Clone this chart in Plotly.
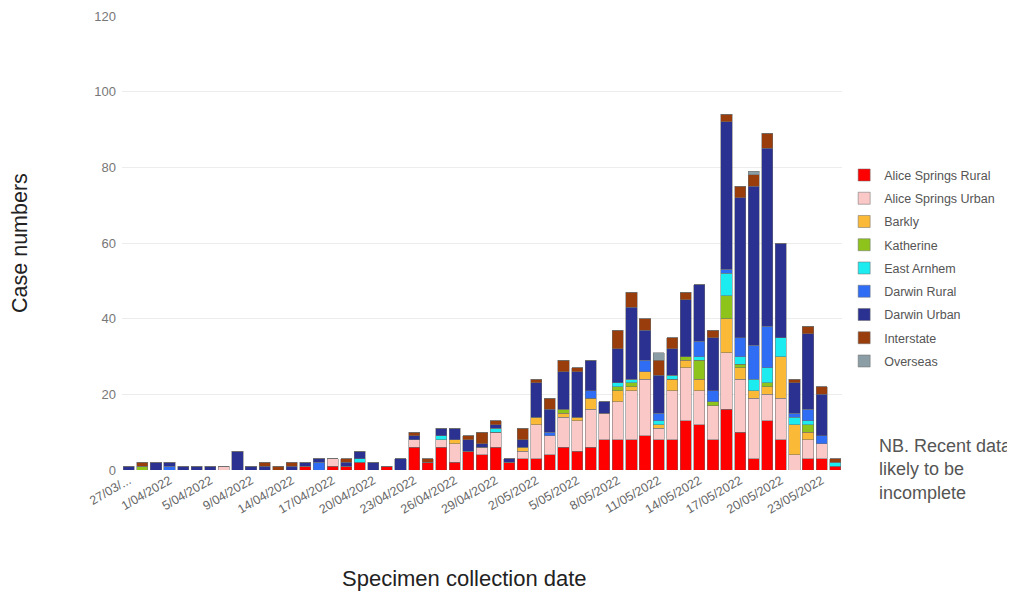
import plotly.graph_objects as go

dates = [
    "27/03/2022", "29/03/2022", "31/03/2022", "1/04/2022", "2/04/2022", "4/04/2022",
    "5/04/2022", "7/04/2022", "8/04/2022", "9/04/2022", "11/04/2022", "12/04/2022",
    "14/04/2022", "15/04/2022", "16/04/2022", "17/04/2022", "18/04/2022", "19/04/2022",
    "20/04/2022", "21/04/2022", "22/04/2022", "23/04/2022", "24/04/2022", "25/04/2022",
    "26/04/2022", "27/04/2022", "28/04/2022", "29/04/2022", "30/04/2022", "1/05/2022",
    "2/05/2022", "3/05/2022", "4/05/2022", "5/05/2022", "6/05/2022", "7/05/2022",
    "8/05/2022", "9/05/2022", "10/05/2022", "11/05/2022", "12/05/2022", "13/05/2022",
    "14/05/2022", "15/05/2022", "16/05/2022", "17/05/2022", "18/05/2022", "19/05/2022",
    "20/05/2022", "21/05/2022", "22/05/2022", "23/05/2022", "24/05/2022",
]

alice_springs_rural = [0,0,0,0,0,0,0,0,0,0,0,0,0,1,0,1,1,2,0,1,0,6,2,6,2,5,4,6,2,3,
                       3,4,6,5,6,8,8,8,9,8,8,13,12,8,16,10,3,13,8,0,3,3,1]
alice_springs_urban = [0,0,0,0,0,0,0,1,0,0,0,0,0,0,0,2,0,0,0,0,0,2,0,2,5,0,2,4,0,2,
                       9,5,8,8,10,7,10,13,15,3,13,14,9,9,15,14,16,7,11,4,5,4,0]
barkly = [0,0,0,0,0,0,0,0,0,0,0,0,0,0,0,0,0,0,0,0,0,0,0,0,1,0,0,0,0,1,
          2,0,1,1,3,0,3,1,2,1,3,2,3,0,9,3,2,2,11,8,2,0,0]
katherine = [0,1,0,0,0,0,0,0,0,0,0,0,0,0,0,0,0,0,0,0,0,0,0,0,0,0,0,0,0,0,
             0,0,1,0,0,0,1,1,0,0,0,1,5,1,6,1,0,1,0,0,2,0,0]
east_arnhem = [0,0,0,0,0,0,0,0,0,0,0,0,0,0,0,0,0,1,0,0,0,0,0,1,0,0,0,1,0,0,
               0,0,0,0,0,0,1,1,0,1,1,0,1,0,6,2,3,4,5,2,1,0,1]
darwin_rural = [0,0,0,1,0,0,0,0,0,0,0,0,0,0,2,0,0,0,0,0,0,0,0,0,0,0,0,0,0,0,
                0,1,0,0,2,0,0,0,3,2,0,0,4,3,1,5,9,11,0,1,3,2,0]
darwin_urban = [1,0,2,1,1,1,1,0,5,1,1,0,1,1,1,0,1,2,2,0,3,1,0,2,3,3,1,1,1,2,
                9,6,10,12,8,3,9,19,8,10,7,15,15,14,39,37,42,47,25,8,20,11,0]
interstate = [0,1,0,0,0,0,0,0,0,0,1,1,1,0,0,0,1,0,0,0,0,1,1,0,0,1,3,1,0,3,
              1,3,3,1,0,0,5,4,3,4,3,2,0,2,2,3,3,4,0,1,2,2,1]
overseas = [0,0,0,0,0,0,0,0,0,0,0,0,0,0,0,0,0,0,0,0,0,0,0,0,0,0,0,0,0,0,
            0,0,0,0,0,0,0,0,0,2,0,0,0,0,0,0,1,0,0,0,0,0,0]

series_names = ["Alice Springs Rural", "Alice Springs Urban", "Barkly", "Katherine",
                "East Arnhem", "Darwin Rural", "Darwin Urban", "Interstate", "Overseas"]
series_values = [alice_springs_rural, alice_springs_urban, barkly, katherine,
                 east_arnhem, darwin_rural, darwin_urban, interstate, overseas]
series_colors = ["#ff0000", "#fbc8c8", "#fbb938", "#8ec31c", "#1cecf0",
                 "#2f6df5", "#2b3191", "#993d0d", "#8b9ea6"]

tick_positions = dates[::3]
tick_labels = ["27/03/..."] + tick_positions[1:]

y_ticks = [0, 20, 40, 60, 80, 100, 120]

fig = go.Figure()
for i, (name, vals, col) in enumerate(zip(series_names, series_values, series_colors)):
    fig.add_trace(go.Bar(
        x=dates, y=vals, name=name, legendgroup=name,
        marker=dict(color=col, line=dict(color="rgba(110,110,110,0.75)", width=0.7)),
    ))

fig.update_layout(
    width=1007, height=583,
    barmode="stack", bargap=0.18,
    plot_bgcolor="white", paper_bgcolor="white",
    margin=dict(l=114, r=173, t=8, b=121, autoexpand=False),
    font=dict(family="Liberation Sans, Arial, sans-serif", color="#666"),
    legend=dict(
        x=1.003, xanchor="left", y=0.682, yanchor="top",
        traceorder="grouped", tracegroupgap=4,
        font=dict(size=12.5, color="#555"),
        bgcolor="rgba(0,0,0,0)",
    ),
    xaxis=dict(
        type="category", categoryorder="array", categoryarray=dates,
        tickmode="array", tickvals=tick_positions, ticktext=tick_labels,
        tickangle=-30, tickfont=dict(size=12.5, color="#666"),
        showgrid=False, showline=False, zeroline=False, ticks="",
        automargin=False,
    ),
    yaxis=dict(
        range=[0, 120], tickvals=y_ticks,
        tickfont=dict(size=13, color="#777"),
        ticklabelstandoff=5,
        showgrid=True, gridcolor="#ececec", gridwidth=1,
        zeroline=False, showline=False, ticks="",
        automargin=False,
    ),
    annotations=[
        dict(text="Case numbers", xref="paper", yref="paper", x=-0.1417, y=0.5,
             textangle=-90, showarrow=False, xanchor="center", yanchor="middle",
             font=dict(size=21.5, color="#222")),
        dict(text="Specimen collection date", xref="paper", yref="paper", x=0.476, y=-0.238,
             showarrow=False, xanchor="center", yanchor="middle",
             font=dict(size=22, color="#222")),
        dict(text="NB. Recent data<br>likely to be<br>incomplete", xref="paper", yref="paper",
             x=1.048, y=0.002, showarrow=False, xanchor="left", yanchor="middle", align="left",
             font=dict(size=18, color="#555")),
    ],
)

fig.write_html("out.html")
